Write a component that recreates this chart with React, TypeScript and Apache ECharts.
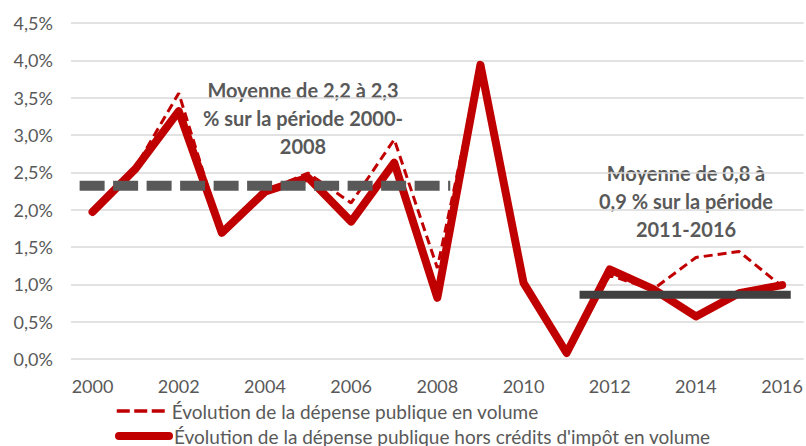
import React, { useEffect, useRef } from "react";
import * as echarts from "echarts";

const years = [2000, 2001, 2002, 2003, 2004, 2005, 2006, 2007, 2008, 2009, 2010, 2011, 2012, 2013, 2014, 2015, 2016];
const depensePublique = [1.97, 2.57, 3.56, 1.7, 2.25, 2.49, 2.09, 2.94, 1.22, 3.94, 1.02, 0.08, 1.12, 0.93, 1.36, 1.44, 0.97];
const horsCredits = [1.97, 2.55, 3.32, 1.69, 2.24, 2.43, 1.84, 2.63, 0.82, 3.94, 1.02, 0.08, 1.2, 0.94, 0.57, 0.88, 0.99];
const xTickLabels = [2000, 2002, 2004, 2006, 2008, 2010, 2012, 2014, 2016];
const moyenne1 = { from: 1999.7, to: 2008.3, value: 2.32 };
const moyenne2 = { from: 2011.3, to: 2016.2, value: 0.86 };
const seriesNames = [
  "Évolution de la dépense publique en volume",
  "Évolution de la dépense publique hors crédits d'impôt en volume",
];
const annotation1 = ["Moyenne de 2,2 à 2,3", "% sur la période 2000-", "2008"];
const annotation2 = ["Moyenne de 0,8 à", "0,9 % sur la période", "2011-2016"];

const FONT = "Lato, 'Open Sans', sans-serif";
const GREY_TEXT = "#595959";
const RED = "#C00000";

export default function App() {
  const ref = useRef<HTMLDivElement>(null);
  useEffect(() => {
    if (!ref.current) return;
    const chart = echarts.init(ref.current, undefined, { renderer: "svg" });
    const fmt = (v: number) => v.toFixed(1).replace(".", ",") + "%";
    const legendBase = {
      orient: "horizontal",
      left: 115,
      itemWidth: 50,
      itemHeight: 14,
      padding: 0,
      itemStyle: { opacity: 0 },
      textStyle: { color: GREY_TEXT, fontSize: 19, lineHeight: 22, fontFamily: FONT },
    };
    const option: any = {
      animation: false,
      textStyle: { fontFamily: FONT },
      grid: { left: 71, right: 2, top: 23, bottom: 87, containLabel: false },
      xAxis: {
        type: "value",
        min: 1999.5,
        max: 2016.5,
        splitLine: { show: false },
        axisLine: { show: false },
        axisTick: { show: false },
        axisLabel: {
          customValues: xTickLabels,
          formatter: (v: number) => String(v),
          color: GREY_TEXT,
          fontSize: 18,
          margin: 18,
          fontFamily: FONT,
        },
      },
      yAxis: {
        type: "value",
        min: 0,
        max: 4.5,
        interval: 0.5,
        axisLine: { show: false },
        axisTick: { show: false },
        splitLine: { lineStyle: { color: "#D9D9D9", width: 1.5 } },
        axisLabel: {
          formatter: (v: number) => fmt(v),
          color: GREY_TEXT,
          fontSize: 18,
          margin: 18,
          fontFamily: FONT,
        },
      },
      legend: [
        {
          ...legendBase,
          top: 400,
          data: [seriesNames[0]],
          lineStyle: { width: 3.5, type: [13, 4.5] },
        },
        {
          ...legendBase,
          top: 425,
          data: [seriesNames[1]],
          lineStyle: { width: 8, cap: "round" },
        },
      ],
      series: [
        {
          name: seriesNames[0],
          type: "line",
          symbol: "none",
          data: years.map((y, i) => [y, depensePublique[i]]),
          lineStyle: { color: RED, width: 3, type: [9, 5] },
          itemStyle: { color: RED },
          z: 2,
        },
        {
          name: seriesNames[1],
          type: "line",
          symbol: "none",
          data: years.map((y, i) => [y, horsCredits[i]]),
          lineStyle: { color: RED, width: 8, cap: "round", join: "round" },
          itemStyle: { color: RED },
          z: 3,
        },
        {
          name: "moyenne1",
          type: "line",
          symbol: "none",
          data: [
            [moyenne1.from, moyenne1.value],
            [moyenne1.to, moyenne1.value],
          ],
          lineStyle: { color: "#595959", width: 10, type: [25, 8.5] },
          z: 4,
        },
        {
          name: "moyenne2",
          type: "line",
          symbol: "none",
          data: [
            [moyenne2.from, moyenne2.value],
            [moyenne2.to, moyenne2.value],
          ],
          lineStyle: { color: "#404040", width: 8 },
          z: 4,
        },
      ],
      graphic: [
        ...annotation1.map((t, i) => ({
          type: "text",
          x: 303,
          y: 90 + i * 28,
          style: {
            text: t,
            fill: GREY_TEXT,
            font: `bold 20px ${FONT}`,
            textAlign: "center",
            textVerticalAlign: "middle",
          },
        })),
        ...annotation2.map((t, i) => ({
          type: "text",
          x: 686,
          y: 173 + i * 28,
          style: {
            text: t,
            fill: GREY_TEXT,
            font: `bold 20px ${FONT}`,
            textAlign: "center",
            textVerticalAlign: "middle",
          },
        })),
      ],
    };
    chart.setOption(option);
    return () => chart.dispose();
  }, []);
  return <div ref={ref} style={{ width: 806, height: 446, position: "absolute", left: 0, top: 0 }} />;
}
